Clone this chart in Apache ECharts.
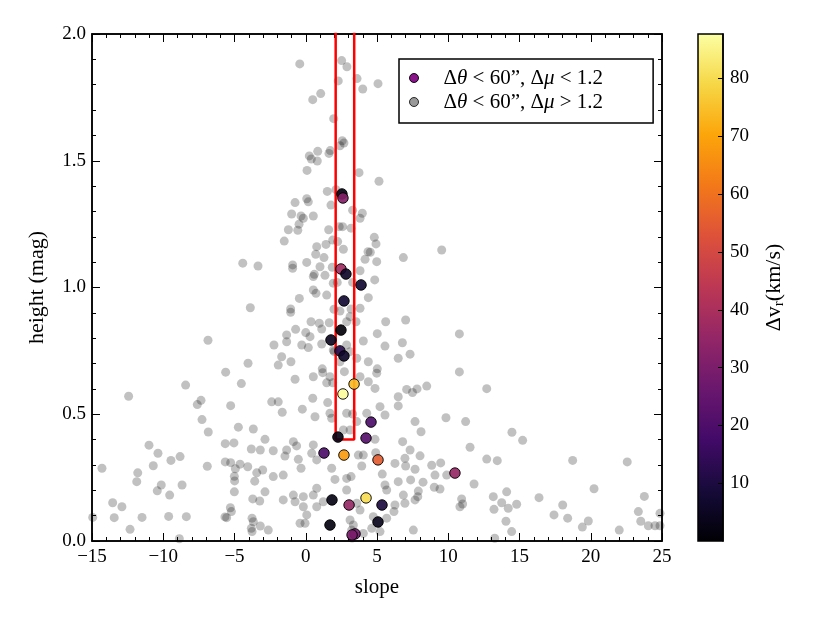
<!DOCTYPE html>
<html>
<head>
<meta charset="utf-8">
<script src="https://cdn.jsdelivr.net/npm/echarts@6/dist/echarts.min.js"></script>
<style>html,body{margin:0;padding:0;background:#fff}#c{width:830px;height:623px}</style>
</head>
<body>
<div id="c"></div>
<script>
// Grey points: Δθ < 60", Δμ > 1.2
const greySlope = [
-3.89,-6.86,-4.05,-5.62,-8.43,-4.52,-12.43,-7.61,-7.35,-5.27,-7.28,-6.84,-4.73,-3.68,-11.0,-10.37,-9.46,-8.82,-5.65,-5.04,
-3.82,-3.19,-14.30,-10.70,-11.79,-6.91,-5.65,-5.27,-4.61,-4.07,-4.94,-3.44,-11.86,-10.14,-10.42,-9.55,-8.68,-5.01,-4.99,-3.58,
-5.01,-13.55,-12.90,-3.72,-3.23,-5.29,-5.22,-5.55,-5.67,-14.95,-13.44,-11.49,-9.62,-8.38,-3.77,-12.33,-3.82,-3.77,-3.19,-8.87,
-4.42,-3.35,
-0.42,2.52,2.89,2.28,3.60,4.00,5.07,1.05,0.49,1.96,2.56,2.68,2.40,1.72,1.63,0.84,0.25,0.39,0.81,0.09,3.74,5.14,1.51,2.12,0.07,0.18,-0.75,
1.77,-0.99,-0.33,-0.17,0.53,-0.47,-1.22,-0.56,1.61,2.35,2.59,3.18,3.29,3.97,3.81,-1.51,0.77,1.42,1.89,2.24,2.64,0.70,1.28,
4.81,4.93,4.37,4.53,4.98,4.16,6.85,-0.92,-0.92,0.07,1.00,1.86,0.60,0.53,1.35,1.93,2.21,3.29,3.81,4.84,-0.45,0.53,0.72,1.47,4.39,
-1.06,-1.06,1.98,2.40,3.18,3.81,3.11,2.87,3.53,0.37,0.95,1.65,1.12,-0.71,0.00,0.30,-1.34,-1.34,-2.23,-0.28,0.18,1.12,1.93,2.87,
4.04,5.02,5.61,7.01,5.56,6.78,7.32,6.49,-1.69,-1.04,-1.93,2.00,3.11,3.58,4.39,2.40,1.16,5.02,
0.53,1.19,1.70,2.71,-0.75,1.47,1.89,3.81,4.39,4.98,4.86,7.08,7.49,7.81,6.49,6.49,-2.39,-1.93,-1.65,-0.24,0.49,1.54,0.65,1.70,
1.82,2.87,2.64,3.11,3.29,3.58,4.28,5.21,5.56,7.67,-2.86,-0.87,-0.64,-1.34,-2.28,-1.46,-0.52,0.53,0.42,0.77,-0.33,1.82,3.69,4.04,
3.93,3.18,2.87,2.05,0.77,6.26,6.96,7.67,6.80,7.32,5.56,5.68,6.49,6.85,6.26,6.96,7.67,7.55,-3.02,-2.28,-1.58,-2.86,-1.58,-0.87,
-0.75,-0.17,-0.17,0.53,0.77,1.23,2.87,3.58,3.81,3.11,3.34,0.07,-0.05,-0.40,-3.68,-2.63,3.22,4.04,4.63,4.74,5.68,3.25,
10.78,10.78,12.70,8.49,9.84,11.22,8.09,8.02,11.53,12.70,13.44,14.47,15.22,18.73,22.56,7.01,8.84,9.47,9.07,9.89,5.37,7.36,8.23,
9.02,9.42,7.90,7.86,11.81,6.19,10.94,11.01,10.82,13.16,13.75,14.21,14.10,13.21,14.80,14.05,14.45,16.37,17.42,18.03,18.38,
20.23,19.83,19.41,22.00,23.76,23.34,23.51,24.04,24.51,24.86,24.86,13.26,5.21,9.54,4.86,4.91
];
const greyHeight = [
0.920,0.792,0.701,0.666,0.615,0.621,0.571,0.538,0.555,0.534,0.479,0.430,0.449,0.442,0.378,0.346,0.318,0.333,0.384,0.387,
0.363,0.359,0.287,0.297,0.269,0.295,0.312,0.309,0.303,0.293,0.285,0.269,0.234,0.221,0.198,0.181,0.221,0.255,0.237,0.236,
0.194,0.151,0.135,0.166,0.158,0.131,0.116,0.092,0.095,0.093,0.092,0.093,0.097,0.096,0.090,0.046,0.050,0.037,0.059,0.009,
1.096,1.085,
1.882,1.895,1.871,1.815,1.824,1.783,1.804,1.765,1.741,1.666,1.579,1.570,1.559,1.540,1.529,1.537,1.519,1.507,1.499,1.462,1.453,1.419,1.379,1.386,1.350,1.338,1.335,
1.325,1.290,1.282,1.273,1.282,1.250,1.228,1.226,1.228,1.240,1.240,1.234,1.305,1.293,1.273,1.183,1.161,1.170,1.187,1.181,1.151,1.131,1.118,
1.198,1.172,1.141,1.139,1.102,1.111,1.118,1.089,1.076,1.099,1.082,1.080,1.052,1.043,1.048,1.017,1.020,1.020,1.066,1.030,0.957,0.990,0.977,0.970,0.960,
0.915,0.902,0.914,0.907,0.915,0.918,0.885,0.865,0.865,0.865,0.859,0.861,0.836,0.835,0.822,0.806,0.813,0.786,0.773,0.773,0.763,0.777,0.753,0.773,
0.789,0.818,0.865,0.872,0.769,0.782,0.737,0.721,0.727,0.707,0.694,0.747,0.747,0.721,0.707,0.707,0.679,0.679,
0.648,0.664,0.648,0.668,0.638,0.624,0.624,0.648,0.628,0.662,0.602,0.598,0.586,0.600,0.569,0.533,0.549,0.549,0.508,0.520,0.563,0.546,0.490,0.504,
0.484,0.504,0.438,0.438,0.501,0.471,0.504,0.530,0.497,0.471,0.401,0.392,0.375,0.359,0.356,0.335,0.322,0.379,0.346,0.320,0.287,0.287,0.339,0.339,
0.296,0.254,0.247,0.243,0.208,0.306,0.326,0.283,0.392,0.359,0.221,0.201,0.234,0.181,0.142,0.149,0.162,0.043,0.280,0.254,0.260,0.194,0.162,0.181,
0.155,0.175,0.135,0.181,0.135,0.155,0.201,0.149,0.122,0.083,0.063,0.103,0.070,0.070,0.076,0.043,0.043,0.030,0.050,0.096,0.090,0.012,
0.817,0.667,0.601,0.611,0.486,0.471,0.431,0.336,0.370,0.323,0.317,0.429,0.397,0.318,0.312,0.296,0.299,0.308,0.260,0.260,0.264,0.241,0.232,
0.212,0.205,0.197,0.175,0.225,0.116,0.166,0.146,0.135,0.175,0.151,0.129,0.194,0.125,0.145,0.078,0.037,0.171,0.103,0.142,0.090,
0.206,0.079,0.055,0.043,0.176,0.116,0.078,0.060,0.060,0.060,0.109,0.011,0.037,1.148,0.401,0.348
];
// Coloured points: Δθ < 60", Δμ < 1.2, coloured by Δv_r (km/s)
const matchSlope  = [2.54,2.61,2.47,2.82,3.88,2.68,2.47,1.77,2.40,2.68,3.39,2.61,4.58,2.26,4.23,1.28,2.68,5.07,10.47,4.23,1.84,3.04,5.35,1.70,5.07,3.46,3.25];
const matchHeight = [1.369,1.353,1.073,1.053,1.010,0.947,0.832,0.793,0.750,0.730,0.619,0.580,0.469,0.410,0.406,0.347,0.339,0.320,0.268,0.170,0.162,0.142,0.142,0.063,0.075,0.028,0.024];
const matchDv     = [2,32,38,6,8,8,1,5,12,6,74,87,20,3,22,20,68,55,36,80,3,36,10,2,4,28,30];
// Selection box
const boxSlope  = [2.1, 3.4];
const boxHeight = [0.4, 2.5];
// Colour bar
const dvMin = 0, dvMax = 87.7, dvStep = 10;
const inferno = ['#000004','#160b39','#420a68','#6a176e','#932667','#bc3754','#dd513a','#f37819','#fca50a','#f6d746','#fcffa4'];

const greyData = greySlope.map((x,i)=>[x, greyHeight[i]]);
const matchData = matchSlope.map((x,i)=>[x, matchHeight[i], matchDv[i]]);
const boxData = [[boxSlope[0],boxHeight[0]],[boxSlope[1],boxHeight[0]],[boxSlope[1],boxHeight[1]],[boxSlope[0],boxHeight[1]],[boxSlope[0],boxHeight[0]]];
const cbGradient = new echarts.graphic.LinearGradient(0, 1, 0, 0,
  inferno.map((c, i) => ({offset: i / (inferno.length - 1), color: c})));

const FONT = 'Liberation Serif';
const minus = v => String(v).replace('-', '\u2212');
const tickCommon = {inside:true, length:8, lineStyle:{color:'#000', width:1}};
const minorCommon = {show:true, splitNumber:5, length:4, lineStyle:{color:'#000', width:1}};
const lblStyle = {color:'#000', fontFamily:FONT, fontSize:19};
const lineCommon = {show:true, onZero:false, lineStyle:{color:'#000', width:1.5}};

const chart = echarts.init(document.getElementById('c'), null, {renderer:'canvas'});
chart.setOption({
  animation:false,
  backgroundColor:'#fff',
  grid:[
    {left:92, right:168, top:34, bottom:82, show:true, borderColor:'#000', borderWidth:1.5},
    {left:698, width:25, top:34, bottom:82, show:true, borderColor:'#000', borderWidth:1.5, backgroundColor:cbGradient}
  ],
  xAxis:[
    {type:'value', gridIndex:0, position:'bottom', min:-15, max:25, interval:5,
     axisLine:lineCommon, axisTick:tickCommon, minorTick:minorCommon,
     splitLine:{show:false}, axisLabel:Object.assign({margin:7, formatter:minus}, lblStyle),
     name:'slope', nameLocation:'middle', nameGap:36, nameTextStyle:{color:'#000', fontFamily:FONT, fontSize:21}},
    {type:'value', gridIndex:0, position:'top', min:-15, max:25, interval:5,
     axisLine:lineCommon, axisTick:tickCommon, minorTick:minorCommon,
     splitLine:{show:false}, axisLabel:{show:false}},
    {type:'value', gridIndex:1, min:0, max:1, show:false}
  ],
  yAxis:[
    {type:'value', gridIndex:0, position:'left', min:0, max:2, interval:0.5,
     axisLine:lineCommon, axisTick:tickCommon, minorTick:minorCommon,
     splitLine:{show:false}, axisLabel:Object.assign({margin:6, formatter:v=>v.toFixed(1)}, lblStyle),
     name:'height (mag)', nameLocation:'middle', nameGap:44, nameRotate:90,
     nameTextStyle:{color:'#000', fontFamily:FONT, fontSize:22}},
    {type:'value', gridIndex:0, position:'right', min:0, max:2, interval:0.5,
     axisLine:lineCommon, axisTick:tickCommon, minorTick:minorCommon,
     splitLine:{show:false}, axisLabel:{show:false}},
    {type:'value', gridIndex:1, position:'right', min:dvMin, max:dvMax, interval:dvStep,
     axisLine:{show:true, onZero:false, lineStyle:{color:'#000', width:1.5}}, splitLine:{show:false},
     axisTick:{show:true, inside:true, length:5, lineStyle:{color:'#000', width:1}},
     axisLabel:Object.assign({margin:7, showMinLabel:false, showMaxLabel:false,
       formatter:v => (v > 0 && v % dvStep === 0) ? String(v) : ''}, lblStyle),
     name:'{a|\u0394v}{s|r}{a|(km/s)}', nameLocation:'middle', nameGap:38, nameRotate:90,
     nameTextStyle:{color:'#000', fontFamily:FONT, fontSize:22,
       rich:{a:{fontFamily:FONT, fontSize:22, color:'#000', lineHeight:26, verticalAlign:'middle'},
             s:{fontFamily:FONT, fontSize:15, color:'#000', lineHeight:26, verticalAlign:'bottom'}}}}
  ],
  visualMap:{
    type:'continuous', show:false, seriesIndex:2, dimension:2, min:dvMin, max:dvMax,
    inRange:{color:inferno}
  },
  legend:{
    orient:'vertical', left:399, top:59, padding:[8,50,10,10], itemGap:2, itemWidth:9, itemHeight:9,
    backgroundColor:'#fff', borderColor:'#000', borderWidth:1.5, selectedMode:false,
    data:[
      {name:'m', icon:'circle', itemStyle:{color:'#800080', borderColor:'#000', borderWidth:1}},
      {name:'g', icon:'circle', itemStyle:{color:'#808080', borderColor:'#000', borderWidth:1}}
    ],
    formatter: n => n==='m' ? '{r|\u0394}{i|\u03b8}{r| < 60\u201d, \u0394}{i|\u03bc}{r| < 1.2}'
                            : '{r|\u0394}{i|\u03b8}{r| < 60\u201d, \u0394}{i|\u03bc}{r| > 1.2}',
    textStyle:{padding:[0,0,0,20], lineHeight:22,
      rich:{r:{fontFamily:FONT, fontSize:21, color:'#000', lineHeight:22},
            i:{fontFamily:FONT, fontSize:21, fontStyle:'italic', color:'#000', lineHeight:22}}}
  },
  series:[
    {name:'g', type:'scatter', xAxisIndex:0, yAxisIndex:0, data:greyData, symbolSize:9,
     itemStyle:{color:'rgba(0,0,0,0.3)'}, z:2, silent:true},
    {name:'box', type:'line', xAxisIndex:0, yAxisIndex:0, data:boxData, showSymbol:false, symbol:'none',
     lineStyle:{color:'#ff0000', width:2.5}, clip:true, z:3, silent:true},
    {name:'m', type:'scatter', xAxisIndex:0, yAxisIndex:0, data:matchData, symbolSize:10.5,
     itemStyle:{borderColor:'#000', borderWidth:1, opacity:0.92}, z:4, silent:true}
  ]
});
</script>
</body>
</html>
